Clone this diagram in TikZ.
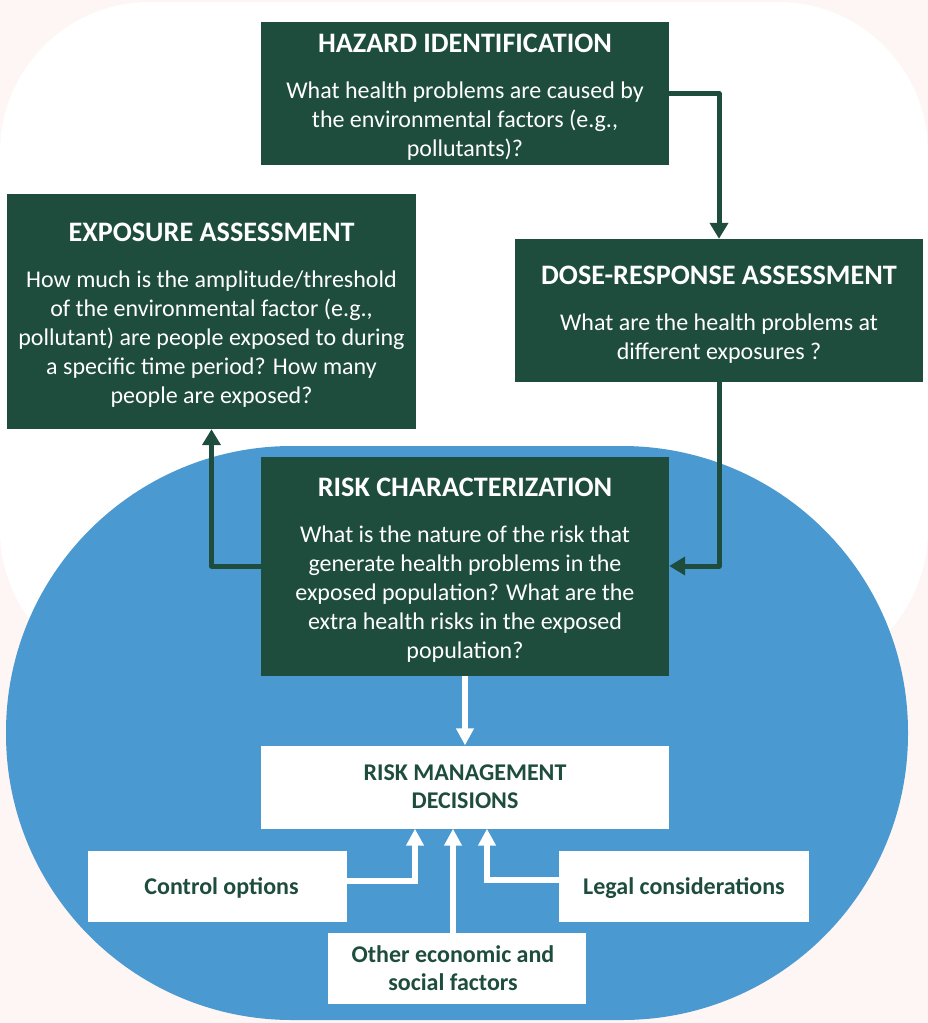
\documentclass[tikz,border=0pt]{standalone}
\usepackage{fontspec}
\setmainfont{Carlito}
\usetikzlibrary{arrows.meta}
\definecolor{bgpink}{RGB}{253,246,245}
\definecolor{bgblue}{RGB}{75,153,209}
\definecolor{dkgreen}{RGB}{30,77,61}
\newcommand{\titlef}{\fontsize{28.2}{33}\selectfont\bfseries}
\tikzset{
  gbox/.style={fill=dkgreen, text=white, inner sep=0pt, align=center,
    font=\fontsize{24}{29}\selectfont},
  wbox/.style={fill=white, text=dkgreen, inner sep=0pt, align=center,
    font=\fontsize{24}{28}\selectfont\bfseries},
  garrow/.style={draw=dkgreen, line width=5pt, line join=round,
    -{Triangle[width=18pt,length=16pt]}},
  warrow/.style={draw=white, line width=5.5pt,
    -{Triangle[width=17pt,length=17pt]}},
}
\begin{document}
\begin{tikzpicture}[x=1pt,y=-1pt]
\useasboundingbox (0,0) rectangle (928,1023);
% background
\fill[bgpink] (0,0) rectangle (928,1023);
\fill[white, rounded corners=150pt] (0,2) rectangle (928,680);
\fill[bgblue, rounded corners=286pt] (6,446) rectangle (908,1020);
% boxes
\node[gbox, minimum width=408pt, minimum height=143pt] (haz) at (465,93.5)
  {\rule{0pt}{26pt}{\titlef HAZARD IDENTIFICATION}\\[17pt]What health problems are caused by\\the environmental factors (e.g.,\\pollutants)?};
\node[gbox, minimum width=409pt, minimum height=235pt] (exp) at (211.5,311.5)
  {\rule{0pt}{26pt}{\titlef EXPOSURE ASSESSMENT}\\[17pt]How much is the amplitude/threshold\\of the environmental factor (e.g.,\\pollutant) are people exposed to during\\a specific time period? How many\\people are exposed?};
\node[gbox, minimum width=408pt, minimum height=143pt] (dose) at (719,310.5)
  {\rule{0pt}{26pt}{\titlef DOSE-RESPONSE ASSESSMENT}\\[17pt]What are the health problems at\\different exposures ?};
\node[gbox, minimum width=408pt, minimum height=219pt] (risk) at (465,566)
  {\rule{0pt}{26pt}{\titlef RISK CHARACTERIZATION}\\[17pt]What is the nature of the risk that\\generate health problems in the\\exposed population? What are the\\extra health risks in the exposed\\population?};
\node[wbox, minimum width=408pt, minimum height=83pt] (rm) at (465,787)
  {RISK MANAGEMENT\\DECISIONS};
\node[wbox, minimum width=259pt, minimum height=71pt, text height=15pt, text depth=0pt] (ctrl) at (217.5,886.5)
  {\hspace*{8pt}Control options};
\node[wbox, minimum width=250pt, minimum height=71pt, text height=15pt, text depth=0pt] (legal) at (684,886.5)
  {Legal considerations};
\node[wbox, minimum width=258pt, minimum height=71pt] (other) at (457,968.5)
  {Other economic and\hspace*{8pt}\\social factors\hspace*{8pt}};
% connectors
\draw[garrow] (haz.east) -| (dose.north);
\draw[garrow] (dose.south) |- (risk.east);
\draw[garrow] (risk.west) -| (exp.south);
\draw[warrow] (risk.south) -- (rm.north);
\draw[warrow] ([yshift=5.5pt]ctrl.east) -| ([xshift=-50pt]rm.south);
\draw[warrow] ([xshift=-4pt]other.north) -- ([xshift=-12pt]rm.south);
\draw[warrow] ([yshift=6.5pt]legal.west) -| ([xshift=22pt]rm.south);
\end{tikzpicture}
\end{document}
